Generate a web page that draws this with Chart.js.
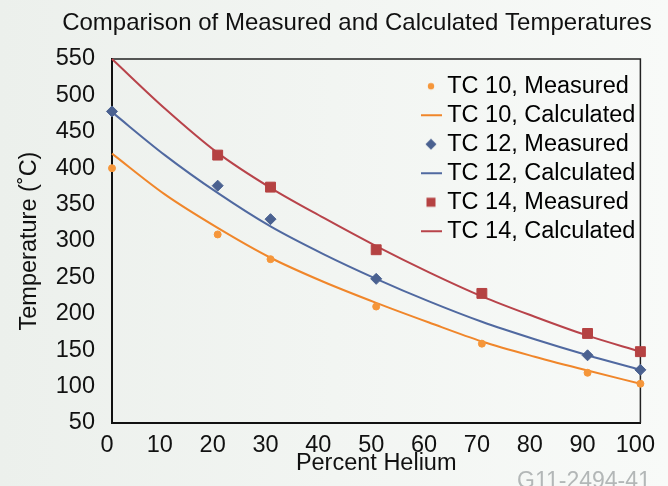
<!DOCTYPE html>
<html>
<head>
<meta charset="utf-8">
<script src="https://cdn.jsdelivr.net/npm/chart.js@4.4.1/dist/chart.umd.min.js"></script>
<style>
  body { margin: 0; background: linear-gradient(to right, #ecf0ec, #f8faf8); }
  #wrap { position: relative; width: 668px; height: 486px; }
  #code { position: absolute; left: 517px; top: 467px; font: 23px "Liberation Sans", Arial, sans-serif; color: #b3b7b7; white-space: nowrap; }
</style>
</head>
<body>
<div id="wrap">
  <canvas id="tempChart" width="668" height="486"></canvas>
  <div id="code">G11-2494-41</div>
</div>
<script>
// measured points
const measuredX = [0, 20, 30, 50, 70, 90, 100];
const tc10Measured = [400, 309, 275, 210, 159, 119, 104];
const tc12X = [0, 20, 30, 50, 90, 100];
const tc12Measured = [478, 376, 330, 248, 143, 123];
const tc14X = [20, 30, 50, 70, 90, 100];
const tc14Measured = [418, 374, 288, 228, 173, 148];

// calculated curves
const helium = [0, 10, 20, 30, 40, 50, 60, 70, 80, 90, 100];
const tc10Calc = [420, 364, 318, 277, 244, 215, 188, 162, 141, 122, 104];
const tc12Calc = [477, 418, 366, 320, 282, 248, 217, 189, 165, 143, 123];
const tc14Calc = [550, 482, 421, 373, 332, 293, 257, 224, 196, 170, 148];

const FONT = '"Liberation Sans", Arial, sans-serif';
const pts = (xs, ys) => xs.map((x, i) => ({ x: x, y: ys[i] }));

// small canvases used as legend symbols
function symbol(kind, color) {
    const c = document.createElement('canvas');
    c.width = 22; c.height = 12;
    const g = c.getContext('2d');
    g.fillStyle = color; g.strokeStyle = color;
    if (kind === 'circle') { g.beginPath(); g.arc(11, 6, 3.2, 0, Math.PI * 2); g.fill(); }
    if (kind === 'diamond') { g.beginPath(); g.moveTo(11, 0.5); g.lineTo(16.5, 6); g.lineTo(11, 11.5); g.lineTo(5.5, 6); g.closePath(); g.fill(); }
    if (kind === 'square') { g.fillRect(6.5, 1.5, 9, 9); }
    if (kind === 'line') { g.lineWidth = 2; g.beginPath(); g.moveTo(0, 6); g.lineTo(22, 6); g.stroke(); }
    return c;
}

const orange = '#f0862a', orangeDot = '#f5963a';
const blue = '#5069a0', blueDot = '#4a6190';
const red = '#b8434a', redDot = '#b54242';

const datasets = [
    { label: 'TC 10, Measured', type: 'scatter', data: pts(measuredX, tc10Measured), backgroundColor: orangeDot, borderColor: orangeDot, pointStyle: 'circle', pointRadius: 3.5, order: 1, sym: symbol('circle', orangeDot) },
    { label: 'TC 10, Calculated', type: 'line', data: pts(helium, tc10Calc), borderColor: orange, borderWidth: 2, pointRadius: 0, cubicInterpolationMode: 'monotone', order: 2, sym: symbol('line', orange) },
    { label: 'TC 12, Measured', type: 'scatter', data: pts(tc12X, tc12Measured), backgroundColor: blueDot, borderColor: blueDot, pointStyle: 'rectRot', pointRadius: 5.5, order: 1, sym: symbol('diamond', blueDot) },
    { label: 'TC 12, Calculated', type: 'line', data: pts(helium, tc12Calc), borderColor: blue, borderWidth: 2, pointRadius: 0, cubicInterpolationMode: 'monotone', order: 2, sym: symbol('line', blue) },
    { label: 'TC 14, Measured', type: 'scatter', data: pts(tc14X, tc14Measured), backgroundColor: redDot, borderColor: redDot, pointStyle: 'rect', pointRadius: 7, order: 1, sym: symbol('square', redDot) },
    { label: 'TC 14, Calculated', type: 'line', data: pts(helium, tc14Calc), borderColor: red, borderWidth: 2, pointRadius: 0, cubicInterpolationMode: 'monotone', order: 2, sym: symbol('line', red) }
];

// title above the plot, frame around it, legend moved to the upper right
const extras = {
    id: 'extras',
    afterLayout(chart) {
        const lg = chart.legend;
        lg.left = 421; lg.right = lg.left + lg.width;
        lg.top = chart.chartArea.top + 10; lg.bottom = lg.top + lg.height;
    },
    beforeDatasetsDraw(chart) {
        const { ctx, chartArea: a } = chart;
        ctx.save();
        ctx.strokeStyle = '#222';
        ctx.lineWidth = 1.5;
        ctx.beginPath();
        ctx.moveTo(a.left, a.top); ctx.lineTo(a.right, a.top); ctx.lineTo(a.right, a.bottom);
        ctx.stroke();
        ctx.restore();
    },
    afterDraw(chart) {
        const ctx = chart.ctx;
        ctx.save();
        ctx.font = '24px ' + FONT;
        ctx.fillStyle = '#111';
        ctx.textAlign = 'center';
        ctx.textBaseline = 'middle';
        ctx.fillText('Comparison of Measured and Calculated Temperatures', 357, 23);
        ctx.restore();
    }
};

new Chart(document.getElementById('tempChart'), {
    type: 'line',
    data: { datasets: datasets },
    options: {
        responsive: false,
        animation: false,
        layout: { padding: { top: 59, right: 25, left: 0, bottom: 0 } },
        plugins: {
            title: { display: false },
            tooltip: { enabled: false },
            legend: {
                position: 'chartArea',
                align: 'start',
                labels: {
                    font: { size: 23.5, family: FONT },
                    color: '#111',
                    usePointStyle: true,
                    pointStyleWidth: 9,
                    padding: 5.5,
                    generateLabels(chart) {
                        return chart.data.datasets.map((ds, i) => ({
                            text: ds.label, pointStyle: ds.sym, fillStyle: ds.borderColor,
                            strokeStyle: ds.borderColor, lineWidth: 0, datasetIndex: i, hidden: false
                        }));
                    }
                }
            }
        },
        scales: {
            x: {
                type: 'linear', min: 0, max: 100,
                grid: { display: false, drawTicks: false },
                border: { display: true, color: '#111', width: 2 },
                ticks: { stepSize: 10, padding: 8, labelOffset: -5, color: '#111', font: { size: 23.5, family: FONT } },
                title: { display: true, text: 'Percent Helium', color: '#111', font: { size: 23.5, family: FONT }, padding: { top: 0, bottom: 8 } },
                afterFit(scale) { scale.height = 63; }
            },
            y: {
                min: 50, max: 550,
                grid: { display: false, drawTicks: false },
                border: { display: true, color: '#111', width: 2 },
                ticks: { stepSize: 50, padding: 17, color: '#111', font: { size: 23.5, family: FONT } },
                title: { display: true, text: 'Temperature (˚C)', color: '#111', font: { size: 23.5, family: FONT }, padding: { top: 15, bottom: 0 } },
                afterFit(scale) { scale.width = 112; }
            }
        },
        datasets: { scatter: { clip: false }, line: { clip: false } }
    },
    plugins: [extras]
});
</script>
</body>
</html>
